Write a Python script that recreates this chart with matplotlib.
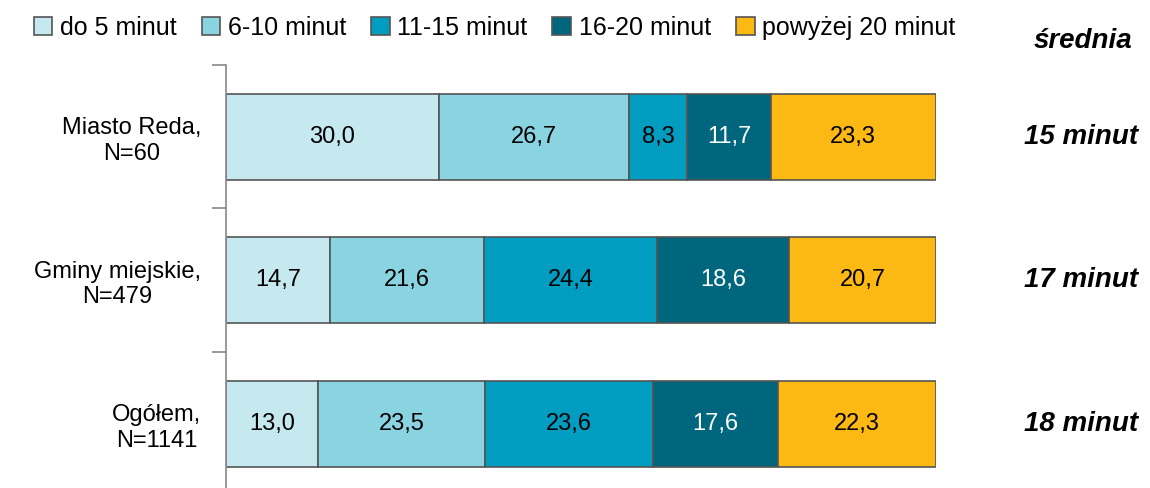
import matplotlib.pyplot as plt
import numpy as np

plt.rcParams['font.family'] = ['Liberation Sans Narrow', 'Liberation Sans', 'DejaVu Sans']

categories = ["Ogółem,\nN=1141", "Gminy miejskie,\nN=479", "Miasto Reda,\nN=60"]
series = ["do 5 minut", "6-10 minut", "11-15 minut", "16-20 minut", "powyżej 20 minut"]
values = [
    [13.0, 14.7, 30.0],
    [23.5, 21.6, 26.7],
    [23.6, 24.4, 8.3],
    [17.6, 18.6, 11.7],
    [22.3, 20.7, 23.3],
]
averages = ["18 minut", "17 minut", "15 minut"]
colors = ["#C6E9F0", "#8AD4E2", "#009DC1", "#00667D", "#FDB913"]
text_colors = ["black", "black", "black", "white", "black"]

fig = plt.figure(figsize=(11.5, 4.88), dpi=100)
ax = fig.add_axes([0.1965, 0.0, 0.6174, 0.8668])

y = np.arange(len(categories))
left = np.zeros(len(categories))
for name, vals, col, tc in zip(series, values, colors, text_colors):
    vals = np.array(vals)
    bars = ax.barh(y, vals, left=left, height=0.6, color=col, edgecolor="#555555",
                   linewidth=1.2, label=name)
    for b, v in zip(bars, vals):
        ax.text(b.get_x() + b.get_width() / 2, b.get_y() + b.get_height() / 2,
                f"{v:.1f}".replace(".", ","), ha="center", va="center",
                fontsize=17, color=tc)
    left += vals

ax.set_yticks(y)
ax.set_yticklabels(categories, fontsize=17, ha="right", multialignment="center")
ax.tick_params(axis="y", which="major", length=0, pad=18)
ax.set_yticks([-0.5, 0.5, 1.5, 2.5], minor=True)
ax.tick_params(axis="y", which="minor", length=10, color="#888888", width=1.2)
ax.set_xticks([])
ax.set_xlim(0, 100)
ax.set_ylim(-0.448, 2.5)
for s in ["top", "right", "bottom"]:
    ax.spines[s].set_visible(False)
ax.spines["left"].set_color("#888888")
ax.spines["left"].set_linewidth(1.2)

for yi, a in zip(y, averages):
    ax.text(1.205, yi, a, transform=ax.get_yaxis_transform(), ha="center", va="center",
            fontsize=20, fontweight="bold", fontstyle="italic")
fig.text(0.942, 0.915, "średnia", ha="center", va="center", fontsize=20,
         fontweight="bold", fontstyle="italic")

fig.legend(loc="center", bbox_to_anchor=(0.43, 0.943), ncol=5, frameon=False,
           fontsize=18, handlelength=0.75, handleheight=0.75, handletextpad=0.3,
           columnspacing=1.0)

fig.savefig("out.png", dpi=100)
plt.close()
